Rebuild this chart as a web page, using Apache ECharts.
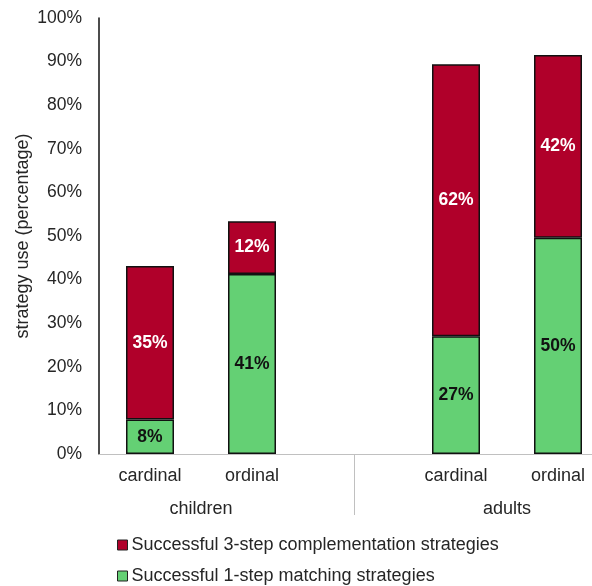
<!DOCTYPE html>
<html>
<head>
<meta charset="utf-8">
<script src="https://cdn.jsdelivr.net/npm/echarts@6/dist/echarts.min.js"></script>
<style>html,body{margin:0;padding:0;background:#fff;}#c{width:592px;height:586px;}</style>
</head>
<body>
<div id="c"></div>
<script>
const categories = ['cardinal', 'ordinal', '', 'cardinal', 'ordinal'];
const groupLabels = ['children', 'adults'];
const matching = [7.9, 41.3, null, 27.0, 49.6];
const complementation = [35.2, 12.1, null, 62.4, 41.9];
const yTicks = [0, 10, 20, 30, 40, 50, 60, 70, 80, 90, 100];
const seriesNames = ['Successful 1-step matching strategies', 'Successful 3-step complementation strategies'];

const FONT = '"Liberation Sans", Arial, sans-serif';
const TXT = '#262626';
const chart = echarts.init(document.getElementById('c'), null, {renderer: 'canvas'});
const pct = function (p) { return Math.round(p.value) + '%'; };
chart.setOption({
  animation: false,
  textStyle: {fontFamily: FONT},
  grid: {left: 99, top: 18, width: 510, height: 436, containLabel: false, outerBoundsMode: 'none'},
  legend: [
    {
      orient: 'vertical', left: 112, top: 531, itemWidth: 10, itemHeight: 10, icon: 'rect',
      data: [seriesNames[1]],
      textStyle: {fontSize: 18, color: TXT, fontFamily: FONT, padding: [0, 0, 0, -1]},
      itemStyle: {borderColor: '#222', borderWidth: 1}
    },
    {
      orient: 'vertical', left: 112, top: 562, itemWidth: 10, itemHeight: 10, icon: 'rect',
      data: [seriesNames[0]],
      textStyle: {fontSize: 18, color: TXT, fontFamily: FONT, padding: [0, 0, 0, -1]},
      itemStyle: {borderColor: '#222', borderWidth: 1}
    }
  ],
  xAxis: [
    {
      type: 'category', data: categories, position: 'bottom',
      axisLine: {lineStyle: {color: '#c0c0c0', width: 1}},
      axisTick: {show: false},
      axisLabel: {fontSize: 18, color: TXT, margin: 13, fontFamily: FONT, interval: 0}
    },
    {
      type: 'value', min: 0, max: 10, interval: 1, position: 'bottom',
      axisLine: {show: false},
      splitLine: {show: false},
      axisTick: {show: true, customValues: [5], length: 61, lineStyle: {color: '#c0c0c0', width: 1}},
      axisLabel: {
        customValues: [2, 8], fontSize: 18, color: TXT, margin: 46, fontFamily: FONT,
        formatter: function (v) { return v === 2 ? groupLabels[0] : (v === 8 ? groupLabels[1] : ''); }
      }
    }
  ],
  yAxis: {
    type: 'value', min: 0, max: 100, interval: 10,
    name: 'strategy use (percentage)', nameLocation: 'middle', nameRotate: 90, nameGap: 67,
    nameMoveOverlap: false,
    nameTextStyle: {fontSize: 18, color: TXT, fontFamily: FONT},
    axisLine: {show: true, lineStyle: {color: '#111', width: 1.5}},
    axisTick: {show: false},
    splitLine: {show: false},
    axisLabel: {fontSize: 17.5, color: TXT, margin: 17, fontFamily: FONT,
      customValues: yTicks, formatter: '{value}%'}
  },
  series: [
    {
      name: seriesNames[0], type: 'bar', stack: 's', data: matching, barWidth: 48,
      itemStyle: {color: '#64D074', borderColor: '#111', borderWidth: 1.5},
      label: {show: true, position: 'inside', formatter: pct, fontSize: 17.5, fontWeight: 'bold', color: '#111', fontFamily: FONT}
    },
    {
      name: seriesNames[1], type: 'bar', stack: 's', data: complementation, barWidth: 48,
      itemStyle: {color: '#B0002A', borderColor: '#111', borderWidth: 1.5},
      label: {show: true, position: 'inside', formatter: pct, fontSize: 17.5, fontWeight: 'bold', color: '#fff', fontFamily: FONT}
    }
  ]
});
</script>
</body>
</html>
